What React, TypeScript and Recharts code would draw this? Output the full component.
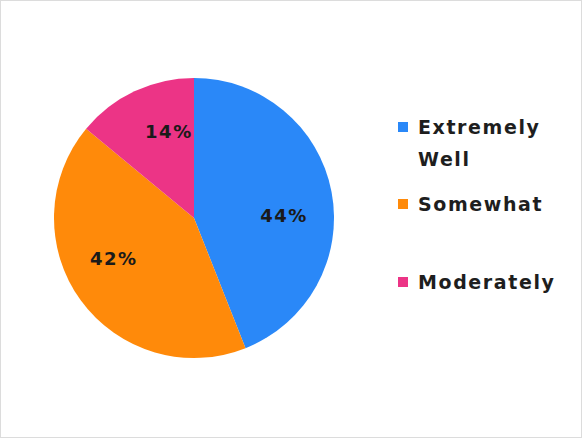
import React from "react";
import { PieChart, Pie, Cell, Legend } from "recharts";

const categories = ["Extremely Well", "Somewhat", "Moderately"];
const values = [44, 42, 14];
const colors = ["#2a88f8", "#ff8a0a", "#ec3486"];

const data = categories.map((name, i) => ({ name, value: values[i] }));

const RAD = Math.PI / 180;

const renderLabel = (props: any) => {
  const { cx, cy, midAngle, percent } = props;
  const r = 90;
  const a = midAngle - 9;
  const x = cx + r * Math.cos(-a * RAD);
  const y = cy + r * Math.sin(-a * RAD);
  return (
    <text
      x={x}
      y={y}
      textAnchor="middle"
      dominantBaseline="central"
      fill="#1a1a1a"
      style={{ fontFamily: "DejaVu Sans", fontWeight: 700, fontSize: 18, letterSpacing: 1.5 }}
    >
      {`${Math.round(percent * 100)}%`}
    </text>
  );
};

const gaps = [0, 13, 46];

const renderLegend = () => {
  return (
    <div style={{ width: 160 }}>
      {categories.map((name, i) => (
        <div
          key={name}
          style={{ display: "flex", alignItems: "flex-start", marginTop: gaps[i] }}
        >
          <div
            style={{
              width: 10,
              height: 10,
              background: colors[i],
              marginTop: 11,
              marginRight: 10,
              flex: "0 0 auto",
            }}
          />
          <div
            style={{
              width: 140,
              fontFamily: "DejaVu Sans",
              fontWeight: 700,
              fontSize: 19,
              letterSpacing: 1.6,
              lineHeight: "32px",
              color: "#1e1e1e",
            }}
          >
            {name}
          </div>
        </div>
      ))}
    </div>
  );
};

export default function App() {
  return (
    <div
      style={{
        position: "absolute",
        left: 0,
        top: 0,
        width: 582,
        height: 438,
        background: "#fff",
        border: "1px solid #dcdcdc",
        boxSizing: "border-box",
      }}
    >
      <div style={{ position: "absolute", left: -1, top: -1 }}>
        <PieChart width={582} height={438} margin={{ top: 0, right: 0, bottom: 0, left: 0 }}>
          <Pie
            data={data}
            dataKey="value"
            nameKey="name"
            cx={194}
            cy={218}
            outerRadius={140}
            startAngle={90}
            endAngle={-270}
            stroke="none"
            label={renderLabel}
            labelLine={false}
            isAnimationActive={false}
          >
            {data.map((d, i) => (
              <Cell key={d.name} fill={colors[i]} />
            ))}
          </Pie>
          <Legend
            content={renderLegend}
            wrapperStyle={{ position: "absolute", left: 398, top: 111, width: 170 }}
          />
        </PieChart>
      </div>
    </div>
  );
}
